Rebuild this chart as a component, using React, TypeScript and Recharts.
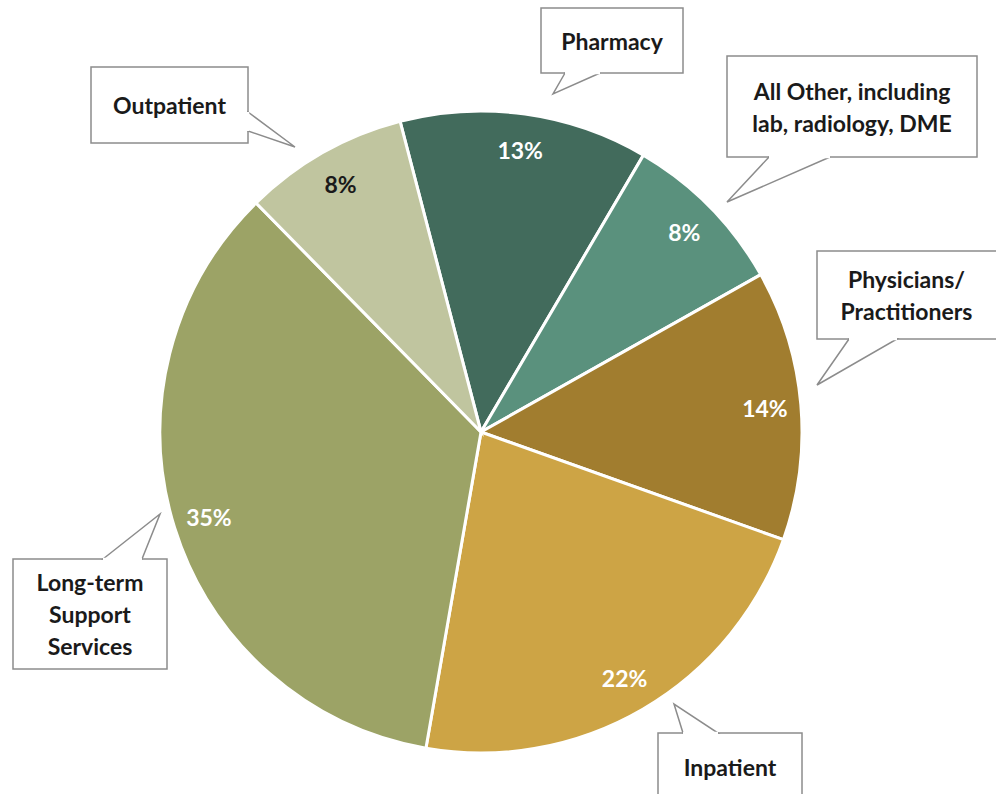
import React from 'react';
import { PieChart, Pie, Cell } from 'recharts';

// slice shares (%), read clockwise from the top
const categories = [
  'Pharmacy',
  'All Other, including lab, radiology, DME',
  'Physicians/ Practitioners',
  'Inpatient',
  'Long-term Support Services',
  'Outpatient',
];
const shares = [12.5, 8.4, 13.6, 22.3, 34.9, 8.3];
const shareLabels = ['13%', '8%', '14%', '22%', '35%', '8%'];

const COLORS = ['#426B5C', '#5A917D', '#A17D2F', '#CDA445', '#9CA366', '#C0C59F'];
const LABEL_COLORS = ['#fff', '#fff', '#fff', '#fff', '#fff', '#1a1a1a'];

const data = categories.map((name, i) => ({ name, value: shares[i], label: shareLabels[i] }));

// callout boxes: box rect, pointer polygon (base1, tip, base2), text lines
const callouts = [
  { lines: ['Pharmacy'], box: [541, 8, 683, 73], ptr: [[565, 73], [553, 94], [600, 73]] },
  { lines: ['All Other, including', 'lab, radiology, DME'], box: [727, 56, 977, 157], ptr: [[769, 157], [727, 202], [830, 157]] },
  { lines: ['Physicians/', 'Practitioners'], box: [817, 251, 1000, 339], ptr: [[849, 339], [817, 385], [897, 339]] },
  { lines: ['Inpatient'], box: [658, 733, 802, 800], ptr: [[683, 733], [674, 704], [718, 733]] },
  { lines: ['Long-term', 'Support', 'Services'], box: [13, 559, 167, 669], ptr: [[103, 559], [160, 514], [142, 559]] },
  { lines: ['Outpatient'], box: [91, 67, 248, 143], ptr: [[248, 112], [295, 147], [248, 131]] },
];

const FONT = 'Lato, "Open Sans", sans-serif';
const FONT_SIZE = 23;
const RADIAN = Math.PI / 180;

const renderLabel = (props: any) => {
  const { cx, cy, midAngle, outerRadius, index } = props;
  const r = outerRadius - 36;
  const x = cx + r * Math.cos(-midAngle * RADIAN);
  const y = cy + r * Math.sin(-midAngle * RADIAN);
  return (
    <text x={x} y={y} fill={LABEL_COLORS[index]} textAnchor="middle" dominantBaseline="central"
      style={{ fontFamily: FONT, fontWeight: 700, fontSize: FONT_SIZE }}>
      {data[index].label}
    </text>
  );
};

const Callout = ({ c }: { c: typeof callouts[number] }) => {
  const [x1, y1, x2, y2] = c.box;
  const [b1, tip, b2] = c.ptr;
  const cxText = (x1 + Math.min(x2, 996)) / 2;
  const visBottom = Math.min(y2, 794);
  const lh = 32;
  const midY = c.lines.length === 1 && y2 > 794 ? y1 + 34 : (y1 + visBottom) / 2;
  const startY = midY - ((c.lines.length - 1) * lh) / 2;
  return (
    <g>
      <rect x={x1} y={y1} width={x2 - x1} height={y2 - y1} fill="#fff" stroke="#8c8c8c" strokeWidth={1.5} />
      <polygon points={`${b1[0]},${b1[1]} ${tip[0]},${tip[1]} ${b2[0]},${b2[1]}`} fill="#fff" stroke="#8c8c8c" strokeWidth={1.5} />
      <line x1={b1[0]} y1={b1[1]} x2={b2[0]} y2={b2[1]} stroke="#fff" strokeWidth={2.5} />
      {c.lines.map((t, i) => (
        <text key={i} x={cxText} y={startY + i * lh} textAnchor="middle" dominantBaseline="central"
          fill="#1a1a1a" style={{ fontFamily: FONT, fontWeight: 700, fontSize: FONT_SIZE }}>
          {t}
        </text>
      ))}
    </g>
  );
};

export default function App() {
  return (
    <div style={{ position: 'absolute', left: 0, top: 0, width: 996, height: 794, background: '#fff', overflow: 'hidden' }}>
      <PieChart width={996} height={794} margin={{ top: 0, right: 0, bottom: 0, left: 0 }}>
        <Pie
          data={data}
          dataKey="value"
          cx={481}
          cy={432}
          outerRadius={321}
          startAngle={104.6}
          endAngle={104.6 - 360}
          stroke="#fff"
          strokeWidth={3}
          label={renderLabel}
          labelLine={false}
          isAnimationActive={false}
        >
          {data.map((d, i) => (
            <Cell key={d.name} fill={COLORS[i]} />
          ))}
        </Pie>
      </PieChart>
      <svg width={996} height={794} style={{ position: 'absolute', left: 0, top: 0, pointerEvents: 'none' }}>
        {callouts.map((c, i) => (
          <Callout key={i} c={c} />
        ))}
      </svg>
    </div>
  );
}
